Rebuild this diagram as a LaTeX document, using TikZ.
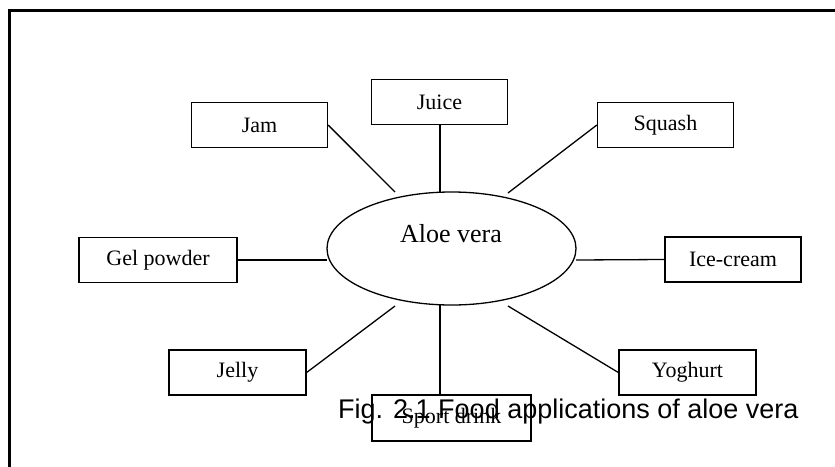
\documentclass[tikz,border=0pt]{standalone}
\usepackage{fontspec}
\setmainfont{Liberation Serif}
\newfontfamily\capfont{Liberation Sans}
\usetikzlibrary{shapes.geometric}
\begin{document}
\begin{tikzpicture}[x=1pt,y=-1pt,
  food/.style={draw,line width=1.3pt,minimum width=136pt,minimum height=45pt,inner sep=0pt,font=\fontsize{22}{24}\selectfont},
  link/.style={line width=1.3pt}]
\useasboundingbox (0,0) rectangle (835,466);
% frame
\draw[line width=2.5pt] (9.3,470) -- (9.3,10.3) -- (840,10.3);
% centre
\node[draw,ellipse,line width=1.3pt,minimum width=249pt,minimum height=113pt,inner sep=0pt] (aloe) at (451.5,248.5) {};
\node[anchor=base,font=\fontsize{26}{28}\selectfont,inner sep=0pt] (aloetxt) at (451,242) {Aloe vera};
% boxes
\node[food] (jam) at (259.5,125) {Jam};
\node[food] (juice) at (439.5,102) {Juice};
\node[food] (squash) at (665.5,125) {Squash};
\node[food,minimum width=158pt] (gel) at (158,260) {Gel powder};
\node[food] (ice) at (733,259.5) {Ice-cream};
\node[food,minimum width=137pt] (jelly) at (237.5,372.5) {Jelly};
\node[food,minimum width=137pt] (yog) at (687.5,372.5) {Yoghurt};
\node[food,minimum width=159pt,minimum height=46pt] (sport) at (451.5,418) {Sport drink};
% connector ends near the ellipse
\coordinate (eJam) at (395,192);
\coordinate (eJuice) at (440,192);
\coordinate (eSquash) at (508,193);
\coordinate (eGel) at (327,260);
\coordinate (eIce) at (576,260);
\coordinate (eJelly) at (395,306);
\coordinate (eSport) at (440,305);
\coordinate (sSport) at (440,395);
\coordinate (eYog) at (508,306);
\draw[link] (jam.east) -- (eJam);
\draw[link] (juice.south -| eJuice) -- (eJuice);
\draw[link] (squash.west) -- (eSquash);
\draw[link] (gel.east) -- (eGel);
\draw[link] (eIce) -- (ice.west);
\draw[link] (eJelly) -- (jelly.east);
\draw[link] (eSport) -- (sSport);
\draw[link] (eYog) -- (yog.west);
% caption
\node[anchor=base west,inner sep=0pt,font=\capfont\fontsize{27}{29}\selectfont] (cap) at (338,418) {Fig. 2.1 Food applications of aloe vera};
\end{tikzpicture}
\end{document}
